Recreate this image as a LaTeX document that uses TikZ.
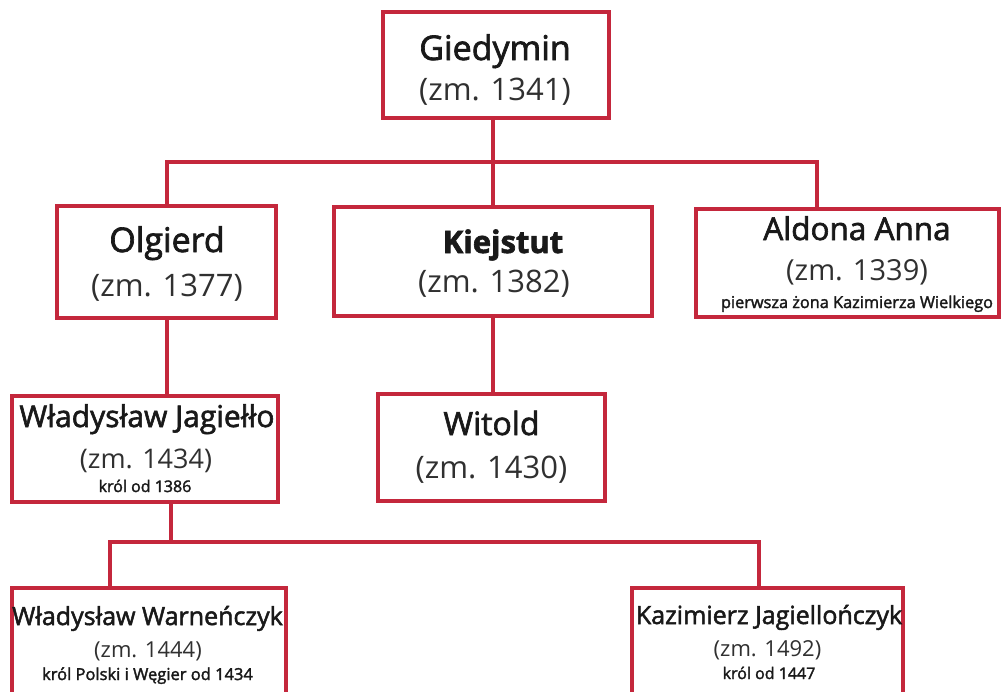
\documentclass[tikz,border=0pt]{standalone}
\usepackage{fontspec}
\setmainfont{Open Sans}
\newfontfamily\polgruby[FakeBold=2]{Open Sans}
\usetikzlibrary{positioning}
\definecolor{ramka}{RGB}{196,39,60}
\definecolor{tekst}{RGB}{25,25,25}

\tikzset{
  osoba/.style={draw=ramka, line width=4pt, fill=white, inner sep=0pt},
  linia/.style={draw=ramka, line width=4pt},
  imie/.style={anchor=base, inner sep=0pt, text=tekst, font=\polgruby},
  rok/.style={anchor=base, inner sep=0pt, text=tekst!90},
  uwaga/.style={anchor=base, inner sep=0pt, text=tekst, font=\polgruby},
}
\newcommand{\rozm}[1]{\fontsize{#1}{#1}\selectfont}

\begin{document}
\begin{tikzpicture}[x=1pt,y=-1pt]
  \useasboundingbox (0,0) rectangle (1001,691);
  \clip (0,0) rectangle (1001,691);

  % ramki
  \node[osoba, minimum width=226, minimum height=106] (gied) at (496,65) {};
  \node[osoba, minimum width=219, minimum height=112] (olg) at (166.5,262) {};
  \node[osoba, minimum width=318, minimum height=109] (kiej) at (493,261.5) {};
  \node[osoba, minimum width=303, minimum height=108] (ald) at (847.5,263) {};
  \node[osoba, minimum width=266, minimum height=106] (jag) at (145,449) {};
  \node[osoba, minimum width=227, minimum height=107] (wit) at (491.5,447.5) {};
  \node[osoba, minimum width=274, minimum height=112] (war) at (149,644) {};
  \node[osoba, minimum width=271, minimum height=112] (kaz) at (767.5,644) {};

  % punkty polaczen
  \coordinate (ald-wej) at (817,209);
  \coordinate (jag-wyj) at (171,502);
  \coordinate (war-wej) at (110,588);
  \coordinate (kaz-wej) at (759,588);
  \coordinate (szyna1) at (0,162);
  \coordinate (szyna2) at (0,542);

  % linie
  \draw[linia] (kiej.north |- gied.south) -- (kiej.north);
  \draw[linia] (olg.north) -- (olg.north |- szyna1) -- (ald-wej |- szyna1) -- (ald-wej);
  \draw[linia] (olg.south) -- (olg.south |- jag.north);
  \draw[linia] (kiej.south) -- (kiej.south |- wit.north);
  \draw[linia] (jag-wyj) -- (jag-wyj |- szyna2);
  \draw[linia] (war-wej) -- (war-wej |- szyna2) -- (kaz-wej |- szyna2) -- (kaz-wej);

  % teksty
  \node[imie] (gied-i) at (495,60) {\rozm{34}Giedymin};
  \node[rok] (gied-r) at (495,100) {\rozm{31}(zm. 1341)};

  \node[imie] (olg-i) at (167,252) {\rozm{34}Olgierd};
  \node[rok] (olg-r) at (167,296) {\rozm{31}(zm. 1377)};

  \node[imie] (kiej-i) at (503,253) {\rozm{31}\bfseries Kiejstut};
  \node[rok] (kiej-r) at (494,292) {\rozm{31}(zm. 1382)};

  \node[imie] (ald-i) at (857,240) {\rozm{31.5}Aldona Anna};
  \node[rok] (ald-r) at (857,280) {\rozm{29}(zm. 1339)};
  \node[uwaga] (ald-u) at (857,308) {\rozm{16.3}pierwsza żona Kazimierza Wielkiego};

  \node[imie] (jag-i) at (147,427) {\rozm{30}Władysław Jagiełło};
  \node[rok] (jag-r) at (146,468) {\rozm{27}(zm. 1434)};
  \node[uwaga] (jag-u) at (145,492) {\rozm{16}król od 1386};

  \node[imie] (wit-i) at (491.5,435) {\rozm{32}Witold};
  \node[rok] (wit-r) at (491.5,478) {\rozm{31}(zm. 1430)};

  \node[imie] (war-i) at (147.5,625) {\rozm{25}Władysław Warneńczyk};
  \node[rok] (war-r) at (148,657) {\rozm{22}(zm. 1444)};
  \node[uwaga] (war-u) at (147.5,680) {\rozm{16.5}król Polski i Węgier od 1434};

  \node[imie] (kaz-i) at (769,624) {\rozm{25}Kazimierz Jagiellończyk};
  \node[rok] (kaz-r) at (767.5,656) {\rozm{22}(zm. 1492)};
  \node[uwaga] (kaz-u) at (769,679) {\rozm{16}król od 1447};
\end{tikzpicture}
\end{document}
